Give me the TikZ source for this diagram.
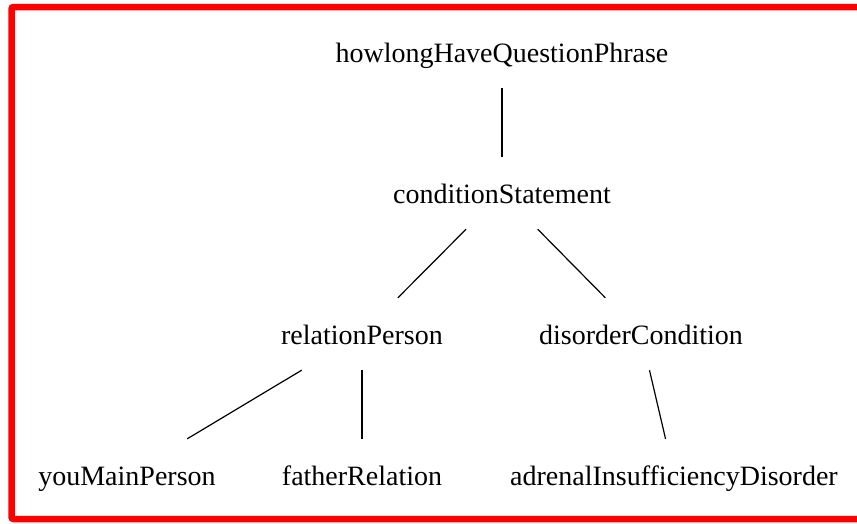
\documentclass[tikz,border=0pt]{standalone}
\usepackage{fontspec}
\setmainfont{Liberation Serif}
\usepackage{tikz}

\tikzset{
  term/.style={inner sep=0pt, text height=46pt, text depth=26pt, anchor=base, font=\fontsize{28}{34}\selectfont},
  branch/.style={line width=1.2pt}
}

\begin{document}
\begin{tikzpicture}[x=1pt, y=-1pt]
  \useasboundingbox (0,0) rectangle (857,523);
  \clip (0,0) rectangle (857,523);
  \draw[red, line width=6.5pt, rounded corners=2pt] (11.5,7) rectangle (880,519);
   \foreach \n/\x/\y/\t in {howlong/502/62/howlongHaveQuestionPhrase,cond/502/203/conditionStatement,relation/362/344/relationPerson,disorder/641/344/disorderCondition,you/127/485/youMainPerson,father/362/485/fatherRelation,adrenal/674/485/adrenalInsufficiencyDisorder}
   {
    \node[term] (\n) at (\x,\y) {\t};
   }
   \foreach \a/\b in {howlong/cond,cond/relation,cond/disorder,relation/you,relation/father,disorder/adrenal}
   {
    \draw[branch] (\a) -- (\b);
   }
\end{tikzpicture}
\end{document}
